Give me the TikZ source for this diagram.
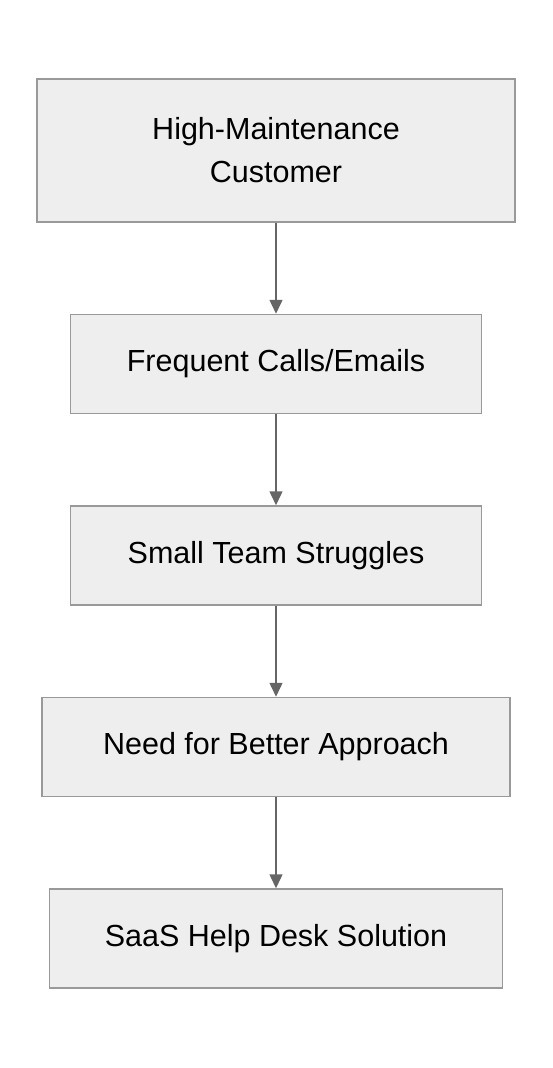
\documentclass[tikz,border=0pt]{standalone}
\usepackage{fontspec}
\setmainfont{Liberation Sans}
\usetikzlibrary{positioning, arrows.meta}
\definecolor{boxfill}{HTML}{EEEEEE}
\definecolor{boxline}{HTML}{999999}
\definecolor{arrowline}{HTML}{666666}

\begin{document}
\begin{tikzpicture}[x=1pt, y=-1pt, >={Triangle[length=14pt, width=13pt]}, node distance=91pt, every node/.style={font=\fontsize{30.5}{43}\selectfont}]
  \tikzset{block/.style={draw=boxline, fill=boxfill, line width=1.5pt, minimum height=99pt, align=center, inner sep=0pt}}
  \useasboundingbox (0,0) rectangle (552,1068);
  \node[block, minimum width=478pt, minimum height=143pt] (cust) at (276,150.5) {High-Maintenance\\Customer};
  \node[block, minimum width=411pt, below=of cust] (calls) {Frequent Calls/Emails};
  \node[block, minimum width=411pt, below=of calls] (team) {Small Team Struggles};
  \node[block, minimum width=468pt, below=of team] (need) {Need for Better Approach};
  \node[block, minimum width=453pt, below=of need] (saas) {SaaS Help Desk Solution};

  \draw[->, draw=arrowline, fill=arrowline, line width=1.5pt] (cust) -- (calls);
  \draw[->, draw=arrowline, fill=arrowline, line width=1.5pt] (calls) -- (team);
  \draw[->, draw=arrowline, fill=arrowline, line width=1.5pt] (team) -- (need);
  \draw[->, draw=arrowline, fill=arrowline, line width=1.5pt] (need) -- (saas);
\end{tikzpicture}
\end{document}
